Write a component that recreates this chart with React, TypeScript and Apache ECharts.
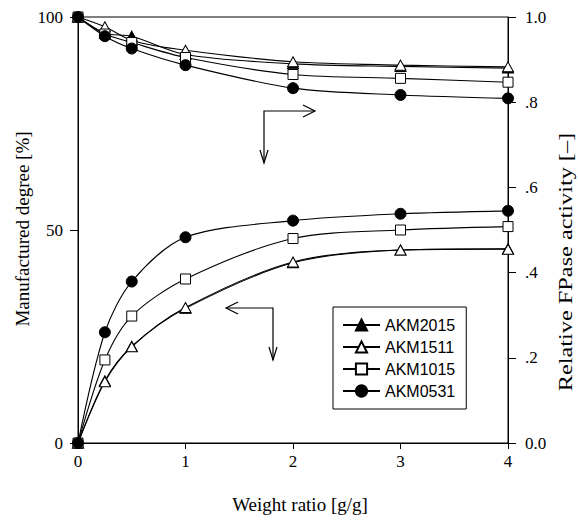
import React, { useEffect, useRef } from "react";
import * as echarts from "echarts";

// ---- data ----
const weightRatio = [0, 0.25, 0.5, 1, 2, 3, 4];
const seriesNames = ["AKM2015", "AKM1511", "AKM1015", "AKM0531"];

// Manufactured degree [%] (left axis)
const degreeAKM2015 = [0, 14.6, 22.7, 31.6, 42.3, 45.3, 45.6];
const degreeAKM1511 = [0, 14.4, 22.6, 31.8, 42.5, 45.3, 45.5];
const degreeAKM1015 = [0, 19.5, 29.8, 38.5, 48.0, 50.0, 50.8];
const degreeAKM0531 = [0, 26.0, 37.9, 48.3, 52.2, 53.8, 54.5];

// Relative FPase activity [-] (right axis)
const activityAKM2015 = [1.0, 0.962, 0.955, 0.912, 0.89, 0.884, 0.88];
const activityAKM1511 = [1.0, 0.977, 0.945, 0.922, 0.895, 0.887, 0.883];
const activityAKM1015 = [1.0, 0.96, 0.94, 0.905, 0.865, 0.856, 0.847];
const activityAKM0531 = [1.0, 0.955, 0.926, 0.887, 0.833, 0.817, 0.809];

const xTicks = [0, 1, 2, 3, 4];
const leftTicks = [0, 50, 100];
const rightTicks = [0, 0.2, 0.4, 0.6, 0.8, 1.0];

const SERIF = "'Liberation Serif', 'Times New Roman', serif";
const SANS = "'Liberation Sans', Arial, sans-serif";

const styles: Record<string, any> = {
  AKM2015: { symbol: "triangle", symbolSize: [11, 10], fill: "#000" },
  AKM1511: { symbol: "triangle", symbolSize: [11, 10], fill: "#fff" },
  AKM1015: { symbol: "rect", symbolSize: 10, fill: "#fff" },
  AKM0531: { symbol: "circle", symbolSize: 11, fill: "#000" },
};

function makeSeries(name: string, values: number[], yAxisIndex: number, z: number) {
  const st = styles[name];
  return {
    name,
    type: "line",
    xAxisIndex: 0,
    yAxisIndex,
    data: weightRatio.map((x, i) => [x, values[i]]),
    smooth: 0.3,
    symbol: st.symbol,
    symbolSize: st.symbolSize,
    showSymbol: true,
    showAllSymbol: true,
    itemStyle: { color: st.fill, borderColor: "#000", borderWidth: 1 },
    lineStyle: { color: "#000", width: 1.1 },
    emphasis: { disabled: true },
    silent: true,
    z,
  };
}

function fmtRight(v: number) {
  if (Math.abs(v) < 1e-9) return "0.0";
  if (Math.abs(v - 1) < 1e-9) return "1.0";
  return v.toFixed(1).replace(/^0/, "");
}

export default function App() {
  const ref = useRef<HTMLDivElement>(null);
  useEffect(() => {
    if (!ref.current) return;
    const chart = echarts.init(ref.current, null, { renderer: "svg" });
    const axisLineStyle = { color: "#000", width: 1 };
    const option: any = {
      animation: false,
      backgroundColor: "#fff",
      grid: {
        left: 78,
        right: 70,
        top: 17,
        bottom: 80,
        show: true,
        borderColor: "#000",
        borderWidth: 1,
        backgroundColor: "transparent",
      },
      xAxis: {
        type: "value",
        min: xTicks[0],
        max: xTicks[xTicks.length - 1],
        interval: 1,
        axisLine: { show: true, lineStyle: axisLineStyle },
        axisTick: { show: true, inside: false, length: 6, lineStyle: axisLineStyle },
        axisLabel: { margin: 10, fontFamily: SERIF, fontSize: 17, color: "#000" },
        splitLine: { show: false },
      },
      yAxis: [
        {
          type: "value",
          position: "left",
          min: leftTicks[0],
          max: leftTicks[leftTicks.length - 1],
          interval: 50,
          axisLine: { show: true, lineStyle: axisLineStyle },
          axisTick: { show: true, inside: false, length: 8, lineStyle: axisLineStyle },
          axisLabel: { margin: 15, fontFamily: SERIF, fontSize: 17, color: "#000" },
          splitLine: { show: false },
        },
        {
          type: "value",
          position: "right",
          min: rightTicks[0],
          max: rightTicks[rightTicks.length - 1],
          interval: 0.2,
          axisLine: { show: true, lineStyle: axisLineStyle },
          axisTick: { show: true, inside: false, length: 8, lineStyle: axisLineStyle },
          axisLabel: {
            margin: 17,
            fontFamily: SERIF,
            fontSize: 17,
            color: "#000",
            formatter: fmtRight,
          },
          splitLine: { show: false },
        },
      ],
      legend: {
        data: seriesNames,
        orient: "vertical",
        left: 333,
        top: 307,
        padding: [10, 11, 10, 9],
        itemGap: 6,
        itemWidth: 37,
        itemHeight: 14,
        borderColor: "#000",
        borderWidth: 1,
        backgroundColor: "#fff",
        selectedMode: false,
        textStyle: { fontFamily: SANS, fontSize: 16, color: "#000", lineHeight: 14 },
      },
      series: [
        makeSeries("AKM2015", degreeAKM2015, 0, 2),
        makeSeries("AKM1511", degreeAKM1511, 0, 3),
        makeSeries("AKM1015", degreeAKM1015, 0, 4),
        makeSeries("AKM0531", degreeAKM0531, 0, 5),
        makeSeries("AKM2015", activityAKM2015, 1, 2),
        makeSeries("AKM1511", activityAKM1511, 1, 3),
        makeSeries("AKM1015", activityAKM1015, 1, 4),
        makeSeries("AKM0531", activityAKM0531, 1, 5),
      ],
      graphic: [
        {
          type: "text",
          x: 22,
          y: 229,
          rotation: Math.PI / 2,
          style: {
            text: "Manufactured degree [%]",
            font: `19px ${SERIF}`,
            fill: "#000",
            align: "center",
            verticalAlign: "middle",
          },
        },
        {
          type: "text",
          x: 566,
          y: 262,
          rotation: Math.PI / 2,
          scaleX: 1.35,
          style: {
            text: "Relative FPase activity [\u2013]",
            font: `18px ${SERIF}`,
            fill: "#000",
            align: "center",
            verticalAlign: "middle",
          },
        },
        {
          type: "text",
          x: 300,
          y: 504,
          style: {
            text: "Weight ratio [g/g]",
            font: `19px ${SERIF}`,
            fill: "#000",
            align: "center",
            verticalAlign: "middle",
          },
        },
        // upper arrow (points right and down)
        {
          type: "polyline",
          shape: { points: [[315, 111], [264, 111], [264, 163]] },
          style: { stroke: "#000", lineWidth: 1.2, fill: null },
        },
        {
          type: "polyline",
          shape: { points: [[303, 105], [315, 111], [303, 117]] },
          style: { stroke: "#000", lineWidth: 1.2, fill: null },
        },
        {
          type: "polyline",
          shape: { points: [[260, 150], [264, 163], [268, 150]] },
          style: { stroke: "#000", lineWidth: 1.2, fill: null },
        },
        // lower arrow (points left and down)
        {
          type: "polyline",
          shape: { points: [[226, 308], [273, 308], [273, 360]] },
          style: { stroke: "#000", lineWidth: 1.2, fill: null },
        },
        {
          type: "polyline",
          shape: { points: [[238, 302], [226, 308], [238, 314]] },
          style: { stroke: "#000", lineWidth: 1.2, fill: null },
        },
        {
          type: "polyline",
          shape: { points: [[269, 347], [273, 360], [277, 347]] },
          style: { stroke: "#000", lineWidth: 1.2, fill: null },
        },
      ],
    };
    chart.setOption(option);
    return () => chart.dispose();
  }, []);
  return (
    <div
      ref={ref}
      style={{ position: "fixed", left: 0, top: 0, width: 578, height: 523, background: "#fff" }}
    />
  );
}
